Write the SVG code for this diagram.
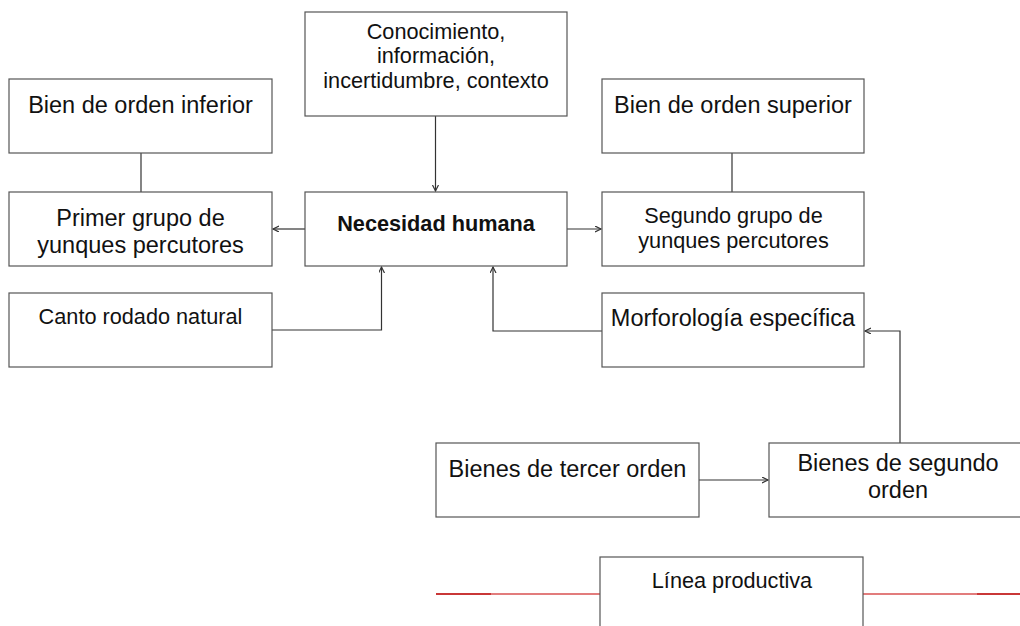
<svg xmlns="http://www.w3.org/2000/svg" width="1020" height="626" viewBox="0 0 1020 626">
<defs>
<style>
.box{fill:#fff;stroke:#555;stroke-width:1.2}
.t{font-family:"Liberation Sans",Arial,sans-serif;fill:#111;text-anchor:middle}
.l{font-size:23.5px}
.s{font-size:21.7px}
.b{font-weight:bold}
.c{fill:none;stroke:#333;stroke-width:1.2}
</style>
<marker id="ah" markerWidth="8" markerHeight="8" refX="6" refY="3" orient="auto" markerUnits="userSpaceOnUse">
<path d="M0,0 L6,3 L0,6" fill="none" stroke="#333" stroke-width="1.2"/>
</marker>
</defs>
<rect width="1020" height="626" fill="#fff"/>
<g id="linea-roja">
<line x1="436" y1="594" x2="600" y2="594" stroke="#d95050" stroke-width="1.5"/>
<line x1="863" y1="594" x2="1020" y2="594" stroke="#d95050" stroke-width="1.5"/>
<line x1="436" y1="594" x2="491" y2="594" stroke="#c02020" stroke-width="1.5"/>
<line x1="977" y1="594" x2="1020" y2="594" stroke="#c02020" stroke-width="1.5"/>
</g>
<g id="connectors">
<line class="c" x1="141" y1="153" x2="141" y2="192"/>
<line class="c" x1="732" y1="153" x2="732" y2="192"/>
<line class="c" x1="435.5" y1="116" x2="435.5" y2="191" marker-end="url(#ah)"/>
<line class="c" x1="305" y1="229" x2="273" y2="229" marker-end="url(#ah)"/>
<line class="c" x1="567" y1="229" x2="601" y2="229" marker-end="url(#ah)"/>
<path class="c" d="M272,330 H381.5 V267" marker-end="url(#ah)"/>
<path class="c" d="M602,331 H493 V267" marker-end="url(#ah)"/>
<path class="c" d="M900,443 V331 H865" marker-end="url(#ah)"/>
<line class="c" x1="699" y1="480" x2="768" y2="480" marker-end="url(#ah)"/>
</g>
<g id="bien-inferior">
<rect class="box" x="9" y="79" width="263" height="74"/>
<text class="t l" x="140.5" y="113">Bien de orden inferior</text>
</g>
<g id="conocimiento">
<rect class="box" x="305" y="12" width="262" height="104"/>
<text class="t s" x="436" y="38.5">Conocimiento,</text>
<text class="t s" x="436" y="63">información,</text>
<text class="t s" x="436" y="87.5">incertidumbre, contexto</text>
</g>
<g id="bien-superior">
<rect class="box" x="602" y="79" width="262" height="74"/>
<text class="t l" x="733" y="113">Bien de orden superior</text>
</g>
<g id="primer-grupo">
<rect class="box" x="9" y="192" width="263" height="74"/>
<text class="t l" x="140.5" y="226">Primer grupo de</text>
<text class="t l" x="140.5" y="253">yunques percutores</text>
</g>
<g id="necesidad">
<rect class="box" x="305" y="192" width="262" height="74"/>
<text class="t s b" x="436" y="231.3">Necesidad humana</text>
</g>
<g id="segundo-grupo">
<rect class="box" x="602" y="192" width="262" height="74"/>
<text class="t s" x="733.5" y="223.3">Segundo grupo de</text>
<text class="t s" x="733.5" y="248.3">yunques percutores</text>
</g>
<g id="canto">
<rect class="box" x="9" y="293" width="263" height="74"/>
<text class="t s" x="140.5" y="324.3">Canto rodado natural</text>
</g>
<g id="morfologia">
<rect class="box" x="602" y="293" width="262" height="74"/>
<text class="t l" x="733" y="326">Morforología específica</text>
</g>
<g id="tercer-orden">
<rect class="box" x="436" y="443" width="263" height="74"/>
<text class="t l" x="567.5" y="476.7">Bienes de tercer orden</text>
</g>
<g id="segundo-orden">
<rect class="box" x="769" y="443" width="263" height="74"/>
<text class="t l" x="898" y="471">Bienes de segundo</text>
<text class="t l" x="898" y="498.3">orden</text>
</g>
<g id="linea-productiva">
<rect class="box" x="600" y="557" width="263" height="90"/>
<text class="t s" x="732" y="588.3">Línea productiva</text>
</g>
</svg>
